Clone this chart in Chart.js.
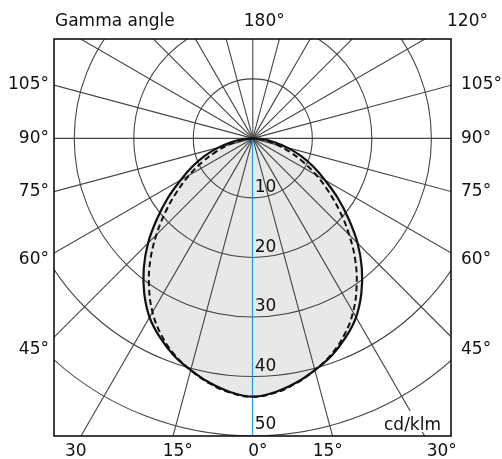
<!DOCTYPE html>
<html>
<head>
<meta charset="utf-8">
<script src="https://cdn.jsdelivr.net/npm/chart.js@4.4.1/dist/chart.umd.min.js"></script>
<style>
    html, body { margin: 0; padding: 0; background: #fff; }
</style>
</head>
<body>
<canvas id="PolarChart" width="502" height="459"></canvas>
<script>
// gamma angles (deg) and luminous intensity (cd/klm)
const gammaAngles = [0, 5, 10, 15, 20, 25, 30, 35, 40, 45, 50, 55, 60, 65, 70, 75, 80, 85, 90];
const planeC0C180 = [43.4, 42.8, 41.7, 40.3, 38.8, 36.9, 34.7, 31.8, 28.5, 24.9, 21.0, 17.4, 14.0, 11.2, 8.6, 6.0, 3.7, 1.7, 0];
const planeC90C270 = [43.4, 42.9, 41.8, 40.3, 38.6, 36.4, 33.7, 30.4, 26.8, 22.9, 19.1, 15.5, 12.3, 9.3, 6.6, 4.3, 2.4, 1.0, 0];

const ringValues = [10, 20, 30, 40, 50, 60];
const ringLabels = ['10', '20', '30', '40', '50'];
const spokeAngles = [0, 15, 30, 45, 60, 75, 90, 105, 120, 135, 150, 165, 180,
    195, 210, 225, 240, 255, 270, 285, 300, 315, 330, 345];
const sideLabels = ['105°', '90°', '75°', '60°', '45°'];
const bottomLabels = ['30', '15°', '0°', '15°', '30°'];

const rad = (d) => d * Math.PI / 180;

// left half (C180 / C270) from 90 down to 0, then right half (C0 / C90) back up to 90
function curvePoints(values) {
    const pts = [];
    for (let i = gammaAngles.length - 1; i >= 0; i--) {
        const g = rad(gammaAngles[i]);
        pts.push({ x: -values[i] * Math.sin(g), y: -values[i] * Math.cos(g) });
    }
    for (let i = 1; i < gammaAngles.length; i++) {
        const g = rad(gammaAngles[i]);
        pts.push({ x: values[i] * Math.sin(g), y: -values[i] * Math.cos(g) });
    }
    return pts;
}

const gridPlugin = {
    id: 'polarGrid',
    beforeDatasetsDraw(chart) {
        const { ctx, chartArea: ca, scales: { x, y } } = chart;
        const cx = x.getPixelForValue(0);
        const cy = y.getPixelForValue(0);
        const unit = x.getPixelForValue(1) - cx;

        ctx.save();
        ctx.beginPath();
        ctx.rect(ca.left, ca.top, ca.right - ca.left, ca.bottom - ca.top);
        ctx.clip();
        ctx.strokeStyle = '#444';
        ctx.lineWidth = 1.1;

        ringValues.forEach(v => {
            ctx.beginPath();
            ctx.arc(cx, cy, v * unit, 0, Math.PI * 2);
            ctx.stroke();
        });

        const far = 100 * unit;
        spokeAngles.forEach(a => {
            if (a === 0) return;
            ctx.beginPath();
            ctx.moveTo(cx, cy);
            ctx.lineTo(cx + far * Math.sin(rad(a)), cy + far * Math.cos(rad(a)));
            ctx.stroke();
        });

        // 0° axis in blue
        const bx = Math.floor(cx) + 0.5;
        ctx.strokeStyle = '#1e9fdc';
        ctx.lineWidth = 1.2;
        ctx.beginPath();
        ctx.moveTo(bx, cy);
        ctx.lineTo(bx, ca.bottom);
        ctx.stroke();

        // unit label sits on a white patch over the grid
        ctx.fillStyle = '#fff';
        ctx.fillRect(ca.right - 71, ca.bottom - 25, 66, 21);
        ctx.restore();
    },
    afterDatasetsDraw(chart) {
        const { ctx, chartArea: ca, scales: { x, y } } = chart;
        const cx = x.getPixelForValue(0);
        const cy = y.getPixelForValue(0);

        ctx.save();
        ctx.strokeStyle = '#111';
        ctx.lineWidth = 1.6;
        ctx.strokeRect(ca.left, ca.top, ca.right - ca.left, ca.bottom - ca.top);

        ctx.fillStyle = '#111';
        ctx.font = '17px "DejaVu Sans"';
        ctx.textBaseline = 'alphabetic';

        ctx.textAlign = 'left';
        ctx.fillText('Gamma angle', ca.left + 1, 26);
        ctx.fillText('180°', cx - 9, 26);
        ctx.fillText('120°', ca.right - 4, 26);

        const sideOffsets = [-54, 0, 53, 121, 211];
        ctx.textBaseline = 'middle';
        sideLabels.forEach((t, i) => {
            ctx.textAlign = 'right';
            ctx.fillText(t, ca.left - 5, cy + sideOffsets[i]);
            ctx.textAlign = 'left';
            ctx.fillText(t, ca.right + 10, cy + sideOffsets[i]);
        });

        const bottomOffsets = [-177, -75, 5, 75, 189];
        ctx.textAlign = 'center';
        ctx.textBaseline = 'alphabetic';
        bottomLabels.forEach((t, i) => {
            ctx.fillText(t, cx + bottomOffsets[i], ca.bottom + 20);
        });

        ctx.textAlign = 'left';
        ringLabels.forEach((t, i) => {
            const py = y.getPixelForValue(-ringValues[i]);
            ctx.fillText(t, cx + 2, py - (i === 4 ? 7 : 5.5));
        });

        ctx.textAlign = 'right';
        ctx.fillText('cd/klm', ca.right - 10, 430);
        ctx.restore();
    }
};

const ctx = document.getElementById('PolarChart');
const PolarChart = new Chart(ctx, {
    type: 'scatter',
    data: {
        datasets: [
            {
                label: 'C90 - C270',
                data: curvePoints(planeC90C270),
                showLine: true,
                fill: 'shape',
                backgroundColor: '#e8e8e8',
                borderColor: '#111',
                borderWidth: 2,
                borderDash: [6, 3.5],
                pointRadius: 0,
                tension: 0.4
            },
            {
                label: 'C0 - C180',
                data: curvePoints(planeC0C180),
                showLine: true,
                fill: 'shape',
                backgroundColor: '#e8e8e8',
                borderColor: '#111',
                borderWidth: 2.2,
                pointRadius: 0,
                tension: 0.4
            }
        ]
    },
    options: {
        responsive: false,
        animation: false,
        devicePixelRatio: 1,
        layout: {
            padding: { left: 54, right: 51, top: 39, bottom: 23 }
        },
        scales: {
            x: { type: 'linear', min: -33.4, max: 33.3, display: false },
            y: { type: 'linear', min: -50, max: 16.7, display: false }
        },
        plugins: {
            legend: { display: false },
            tooltip: { enabled: false },
            filler: { propagate: false, drawTime: 'beforeDatasetsDraw' }
        }
    },
    plugins: [gridPlugin]
});
</script>
</body>
</html>
